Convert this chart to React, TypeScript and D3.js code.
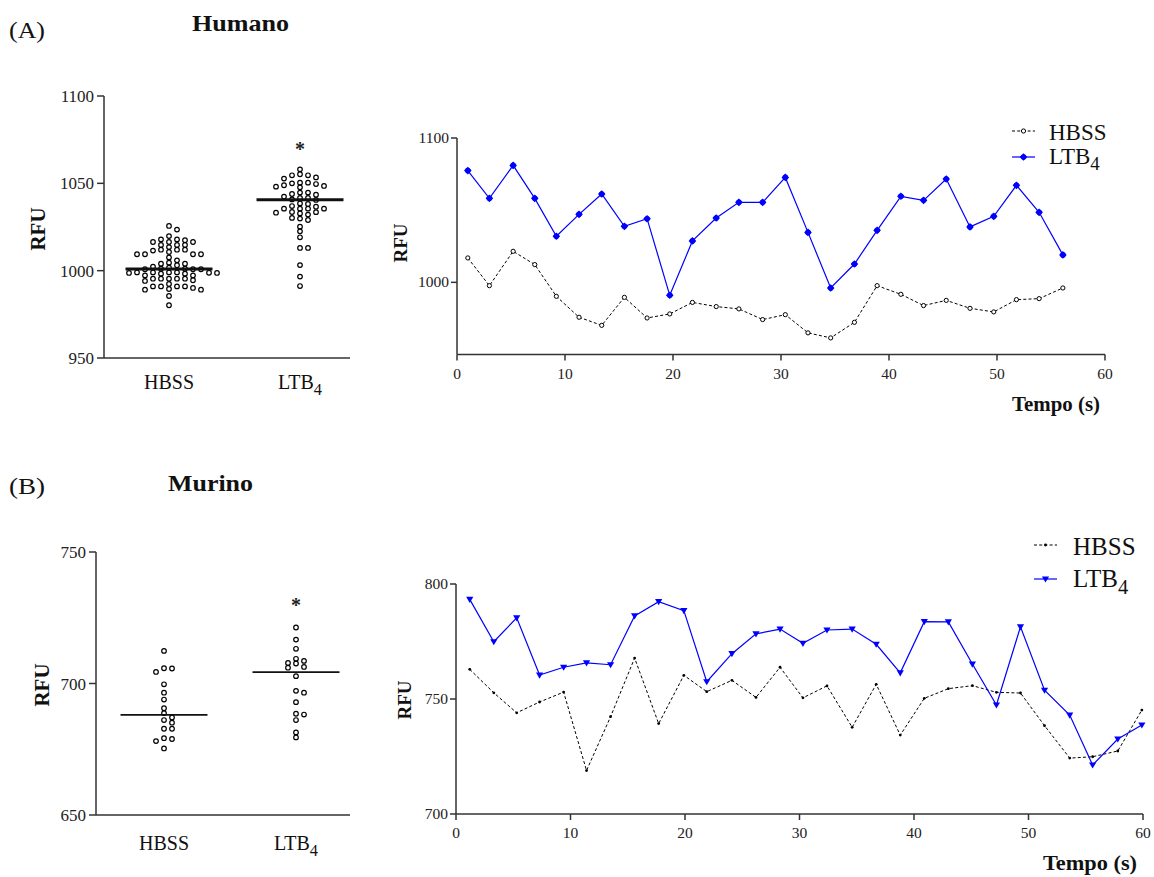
import React from "react";
import * as d3 from "d3";

// ---------- DATA ----------
const categories = ["HBSS", "LTB4"];

// Panel A (Humano) column scatter
const humanHBSS = [
  1025.6, 1023.5,
  1019.8, 1017.9, 1017.9, 1017.4, 1016.4, 1016.4, 1016.4,
  1014.7, 1014.7, 1014.7, 1013.5,
  1012.0, 1012.0, 1012.0, 1011.5, 1010.7, 1009.4, 1009.4, 1009.4, 1009.4, 1007.6, 1005.9,
  1004.6, 1004.0, 1004.0, 1003.1,
  1002.3, 1001.1, 1000.8, 1000.8, 1000.8, 1001.1, 1001.7,
  998.3, 997.3, 998.7, 999.0, 998.8, 999.0, 999.0, 999.0, 997.3, 998.3, 998.7,
  994.5, 995.4, 995.4, 995.4, 995.4, 995.4, 994.1,
  992.4, 991.0, 991.0, 991.0, 991.0, 989.1, 989.1, 989.5, 990.1,
  985.5, 980.2,
];
const humanLTB4 = [
  1058.0,
  1054.6, 1053.4, 1055.2, 1052.7, 1054.6,
  1050.0, 1048.9, 1048.1, 1050.4, 1050.4, 1047.7, 1048.5, 1049.6,
  1044.7, 1043.9, 1042.4, 1041.6, 1040.5, 1040.8, 1041.6, 1043.5, 1044.7,
  1038.5, 1037.0, 1035.5, 1035.5, 1035.5, 1035.5, 1036.6, 1038.2,
  1033.2, 1032.1, 1033.5, 1032.8, 1033.6,
  1029.0, 1029.8, 1030.2,
  1025.2, 1022.5, 1019.1,
  1013.0, 1013.0,
  1003.2, 996.6, 991.2,
];
const humanMedians = [1001.0, 1040.6];

// Panel B (Murino) column scatter
const murineHBSS = [
  712.4, 705.7, 704.4, 705.8, 699.7, 696.5, 693.9, 690.6, 688.7,
  687.1, 686.1, 685.1, 682.8, 682.8, 679.2, 678.9, 678.1, 675.3,
];
const murineLTB4 = [
  721.3, 716.7, 713.2, 707.8, 709.4, 707.6, 708.6, 706.3, 706.0,
  702.8, 697.2, 696.5, 692.9, 688.2, 688.5, 686.1, 681.4, 679.5,
];
const murineMedians = [688.1, 704.3];

// Panel A time traces
const humanTime = [
  1.0, 3.0, 5.2, 7.2, 9.2, 11.3, 13.4, 15.5, 17.6, 19.7, 21.8, 24.0, 26.1, 28.3,
  30.4, 32.5, 34.6, 36.8, 38.9, 41.1, 43.2, 45.3, 47.5, 49.7, 51.8, 53.9, 56.1,
];
const humanHBSSTrace = [
  1016.9, 997.7, 1021.5, 1012.3, 990.3, 975.8, 970.2, 989.6, 975.3, 978.1, 986.1, 983.2, 981.6, 974.2,
  977.6, 965.0, 961.5, 972.3, 997.7, 991.7, 983.9, 987.5, 982.0, 979.5, 988.0, 988.7, 996.1,
];
const humanLTB4Trace = [
  1077.4, 1058.2, 1081.0, 1058.2, 1031.9, 1047.1, 1061.2, 1038.8, 1044.1, 991.0, 1028.7, 1044.6, 1055.4, 1055.4,
  1072.7, 1034.6, 996.1, 1012.7, 1036.0, 1059.6, 1056.8, 1071.6, 1038.4, 1045.7, 1067.2, 1048.5, 1019.0,
];

// Panel B time traces
const murineTime = [
  1.2, 3.3, 5.3, 7.3, 9.4, 11.4, 13.5, 15.6, 17.7, 19.9, 21.9, 24.1, 26.2, 28.3, 30.3,
  32.4, 34.6, 36.7, 38.8, 40.9, 43.0, 45.1, 47.2, 49.3, 51.4, 53.6, 55.6, 57.8, 59.9,
];
const murineHBSSTrace = [
  762.9, 752.7, 744.0, 748.7, 753.0, 718.9, 742.3, 767.8, 739.3, 760.3, 753.2, 758.1, 750.7, 763.8, 750.5,
  755.7, 737.7, 756.4, 734.3, 750.3, 754.5, 755.8, 752.9, 752.6, 738.4, 724.3, 724.9, 727.4, 745.2,
];
const murineLTB4Trace = [
  793.3, 774.9, 785.3, 760.4, 763.8, 765.7, 764.9, 786.1, 792.3, 788.4, 757.5, 769.7, 778.3, 780.4, 774.2,
  780.0, 780.4, 773.8, 761.4, 783.6, 783.5, 765.2, 747.4, 781.4, 753.8, 743.0, 721.3, 732.6, 738.7,
];

// Tick labels
const humanScatterTicks = [950, 1000, 1050, 1100];
const humanTraceTicks = [1000, 1100];
const murineScatterTicks = [650, 700, 750];
const murineTraceTicks = [700, 750, 800];
const timeTicks = [0, 10, 20, 30, 40, 50, 60];

// ---------- STYLE ----------
const SERIF = "'Liberation Serif', 'Times New Roman', serif";
const AXIS = "#333";
const BLUE = "#0000ff";

function swarm(values: number[], y: (v: number) => number, cx: number, step: number, minDy: number) {
  const pts = values.map((v) => ({ v, y: y(v), x: cx }));
  const order = pts.slice().sort((a, b) => a.y - b.y);
  const placed: { x: number; y: number }[] = [];
  for (const p of order) {
    for (let k = 0; k < 30; k++) {
      const off = k === 0 ? 0 : (k % 2 ? 1 : -1) * Math.ceil(k / 2);
      const x = cx + off * step;
      if (!placed.some((q) => Math.abs(q.x - x) < 0.5 && Math.abs(q.y - p.y) < minDy)) {
        p.x = x;
        placed.push({ x, y: p.y });
        break;
      }
    }
  }
  return pts;
}

function CatLabel({ x, y, name, size }: { x: number; y: number; name: string; size: number }) {
  if (name === "LTB4") {
    return (
      <text x={x} y={y} textAnchor="middle" fontFamily={SERIF} fontSize={size} fill="#111">
        LTB<tspan fontSize={size * 0.82} dy={size * 0.28}>4</tspan>
      </text>
    );
  }
  return (
    <text x={x} y={y} textAnchor="middle" fontFamily={SERIF} fontSize={size} fill="#111">
      {name}
    </text>
  );
}

type ScatterProps = {
  axisX: number; xEnd: number; yTop: number; yBottom: number;
  domain: [number, number]; ticks: number[];
  centers: number[]; groups: number[][]; medians: number[]; medianStroke: number;
  asteriskY: number; labelY: number; rfu: [number, number]; tickSize: number;
};

function ScatterPanel(p: ScatterProps) {
  const y = d3.scaleLinear().domain(p.domain).range([p.yBottom, p.yTop]);
  return (
    <g>
      <line x1={p.axisX} x2={p.axisX} y1={p.yTop} y2={p.yBottom} stroke={AXIS} strokeWidth={1.5} />
      <line x1={p.axisX} x2={p.xEnd} y1={p.yBottom} y2={p.yBottom} stroke={AXIS} strokeWidth={1.5} />
      {p.ticks.map((t) => (
        <g key={t}>
          <line x1={p.axisX - 7} x2={p.axisX} y1={y(t)} y2={y(t)} stroke={AXIS} strokeWidth={1.5} />
          <text x={p.axisX - 10} y={y(t) + 6} textAnchor="end" fontFamily={SERIF} fontSize={p.tickSize} fill="#222">
            {t}
          </text>
        </g>
      ))}
      {p.groups.map((vals, gi) => {
        const pts = swarm(vals, (v) => y(v), p.centers[gi], 8, 4.6);
        return (
          <g key={gi}>
            {pts.map((d, i) => (
              <circle key={i} cx={d.x} cy={d.y} r={2.3} fill="#fff" stroke="#000" strokeWidth={1.2} />
            ))}
            <line
              x1={p.centers[gi] - 43.5} x2={p.centers[gi] + 43.5}
              y1={y(p.medians[gi])} y2={y(p.medians[gi])}
              stroke="#111" strokeWidth={p.medianStroke}
            />
            <CatLabel x={p.centers[gi]} y={p.labelY} name={categories[gi]} size={20} />
          </g>
        );
      })}
      <text x={p.centers[1]} y={p.asteriskY} textAnchor="middle" fontFamily={SERIF} fontSize={20} fontWeight="bold" fill="#222">
        *
      </text>
      <text
        transform={`translate(${p.rfu[0]},${p.rfu[1]}) rotate(-90)`}
        textAnchor="middle" dominantBaseline="central"
        fontFamily={SERIF} fontSize={21} fontWeight="bold" fill="#111"
      >
        RFU
      </text>
    </g>
  );
}

type TraceProps = {
  x0: number; x1: number; yTop: number; yBottom: number;
  domain: [number, number]; ticks: number[];
  time: number[]; hbss: number[]; ltb: number[];
  hbssMarker: "open" | "dot"; ltbMarker: "diamond" | "tri";
  rfu: [number, number]; tempo: [number, number, number];
  legend: { lineX: number; textX: number; y1: number; y2: number; size: number };
};

function Marker({ kind, x, y }: { kind: string; x: number; y: number }) {
  if (kind === "open") return <circle cx={x} cy={y} r={2.1} fill="#fff" stroke="#000" strokeWidth={1} />;
  if (kind === "dot") return <circle cx={x} cy={y} r={1.4} fill="#000" />;
  if (kind === "diamond")
    return (
      <g transform={`translate(${x},${y})`}>
        <path d="M0,-3.8L3.8,0L0,3.8L-3.8,0Z" fill={BLUE} />
        <circle r={2.8} fill={BLUE} />
      </g>
    );
  return <path transform={`translate(${x},${y})`} d="M-3.6,-2.6L3.6,-2.6L0,3.6Z" fill={BLUE} />;
}

function TracePanel(p: TraceProps) {
  const x = d3.scaleLinear().domain([0, 60]).range([p.x0, p.x1]);
  const y = d3.scaleLinear().domain(p.domain).range([p.yBottom, p.yTop]);
  const line = d3.line<number>().x((_, i) => x(p.time[i])).y((d) => y(d));
  const topTick = y(p.ticks[p.ticks.length - 1]);
  const L = p.legend;
  return (
    <g>
      <line x1={p.x0} x2={p.x0} y1={topTick} y2={p.yBottom} stroke={AXIS} strokeWidth={1.5} />
      <line x1={p.x0} x2={p.x1} y1={p.yBottom} y2={p.yBottom} stroke={AXIS} strokeWidth={1.5} />
      {p.ticks.map((t) => (
        <g key={t}>
          <line x1={p.x0 - 6} x2={p.x0} y1={y(t)} y2={y(t)} stroke={AXIS} strokeWidth={1.5} />
          <text x={p.x0 - 8} y={y(t) + 5} textAnchor="end" fontFamily={SERIF} fontSize={15.5} fill="#222">
            {t}
          </text>
        </g>
      ))}
      {timeTicks.map((t) => (
        <g key={t}>
          <line x1={x(t)} x2={x(t)} y1={p.yBottom} y2={p.yBottom + 6} stroke={AXIS} strokeWidth={1.5} />
          <text x={x(t)} y={p.yBottom + 24} textAnchor="middle" fontFamily={SERIF} fontSize={15.5} fill="#222">
            {t}
          </text>
        </g>
      ))}
      <path d={line(p.hbss) || ""} fill="none" stroke="#000" strokeWidth={1} strokeDasharray="3,2.2" />
      <path d={line(p.ltb) || ""} fill="none" stroke={BLUE} strokeWidth={1.2} />
      {p.hbss.map((v, i) => (
        <Marker key={"h" + i} kind={p.hbssMarker} x={x(p.time[i])} y={y(v)} />
      ))}
      {p.ltb.map((v, i) => (
        <Marker key={"l" + i} kind={p.ltbMarker} x={x(p.time[i])} y={y(v)} />
      ))}
      <text
        transform={`translate(${p.rfu[0]},${p.rfu[1]}) rotate(-90)`}
        textAnchor="middle" dominantBaseline="central"
        fontFamily={SERIF} fontSize={19} fontWeight="bold" fill="#111"
      >
        RFU
      </text>
      <text x={p.tempo[0]} y={p.tempo[1]} textAnchor="end" fontFamily={SERIF} fontSize={20} fontWeight="bold" fill="#111"
        textLength={p.tempo[2]} lengthAdjust="spacingAndGlyphs">
        Tempo (s)
      </text>
      {/* legend */}
      <line x1={L.lineX} x2={L.lineX + 23} y1={L.y1} y2={L.y1} stroke="#000" strokeWidth={1} strokeDasharray="3,2.2" />
      <Marker kind={p.hbssMarker} x={L.lineX + 11.5} y={L.y1} />
      <text x={L.textX} y={L.y1 + L.size * 0.38} fontFamily={SERIF} fontSize={L.size} fill="#111">
        HBSS
      </text>
      <line x1={L.lineX} x2={L.lineX + 23} y1={L.y2} y2={L.y2} stroke={BLUE} strokeWidth={1.2} />
      <Marker kind={p.ltbMarker} x={L.lineX + 11.5} y={L.y2} />
      <text x={L.textX} y={L.y2 + L.size * 0.3} fontFamily={SERIF} fontSize={L.size} fill="#111">
        LTB<tspan fontSize={L.size * 0.82} dy={L.size * 0.28}>4</tspan>
      </text>
    </g>
  );
}

export default function App() {
  return (
    <svg width={1154} height={877} style={{ position: "absolute", left: 0, top: 0, background: "#fff" }}>
      <rect width={1154} height={877} fill="#fff" />
      {/* Titles */}
      <text x={9} y={38} fontFamily={SERIF} fontSize={23} fill="#111" textLength={36} lengthAdjust="spacingAndGlyphs">(A)</text>
      <text x={192} y={31} fontFamily={SERIF} fontSize={24} fontWeight="bold" fill="#111" textLength={97} lengthAdjust="spacingAndGlyphs">Humano</text>
      <text x={9} y={494} fontFamily={SERIF} fontSize={23} fill="#111" textLength={36} lengthAdjust="spacingAndGlyphs">(B)</text>
      <text x={168} y={491} fontFamily={SERIF} fontSize={24} fontWeight="bold" fill="#111" textLength={85} lengthAdjust="spacingAndGlyphs">Murino</text>

      <ScatterPanel
        axisX={104} xEnd={350} yTop={96} yBottom={358}
        domain={[950, 1100]} ticks={humanScatterTicks}
        centers={[169, 300]} groups={[humanHBSS, humanLTB4]} medians={humanMedians} medianStroke={3}
        asteriskY={156} labelY={389} rfu={[38, 229]} tickSize={17}
      />
      <ScatterPanel
        axisX={96} xEnd={350} yTop={552} yBottom={815}
        domain={[650, 750]} ticks={murineScatterTicks}
        centers={[164, 296]} groups={[murineHBSS, murineLTB4]} medians={murineMedians} medianStroke={1.8}
        asteriskY={612} labelY={850} rfu={[42, 685]} tickSize={17}
      />
      <TracePanel
        x0={457} x1={1105} yTop={138} yBottom={354.5}
        domain={[950, 1100]} ticks={humanTraceTicks}
        time={humanTime} hbss={humanHBSSTrace} ltb={humanLTB4Trace}
        hbssMarker="open" ltbMarker="diamond"
        rfu={[400, 243]} tempo={[1100, 411, 88]}
        legend={{ lineX: 1012, textX: 1049, y1: 131, y2: 157, size: 23 }}
      />
      <TracePanel
        x0={456} x1={1143} yTop={584} yBottom={814}
        domain={[700, 800]} ticks={murineTraceTicks}
        time={murineTime} hbss={murineHBSSTrace} ltb={murineLTB4Trace}
        hbssMarker="dot" ltbMarker="tri"
        rfu={[404, 700]} tempo={[1137, 870, 94]}
        legend={{ lineX: 1034, textX: 1073, y1: 545, y2: 579, size: 25 }}
      />
    </svg>
  );
}
